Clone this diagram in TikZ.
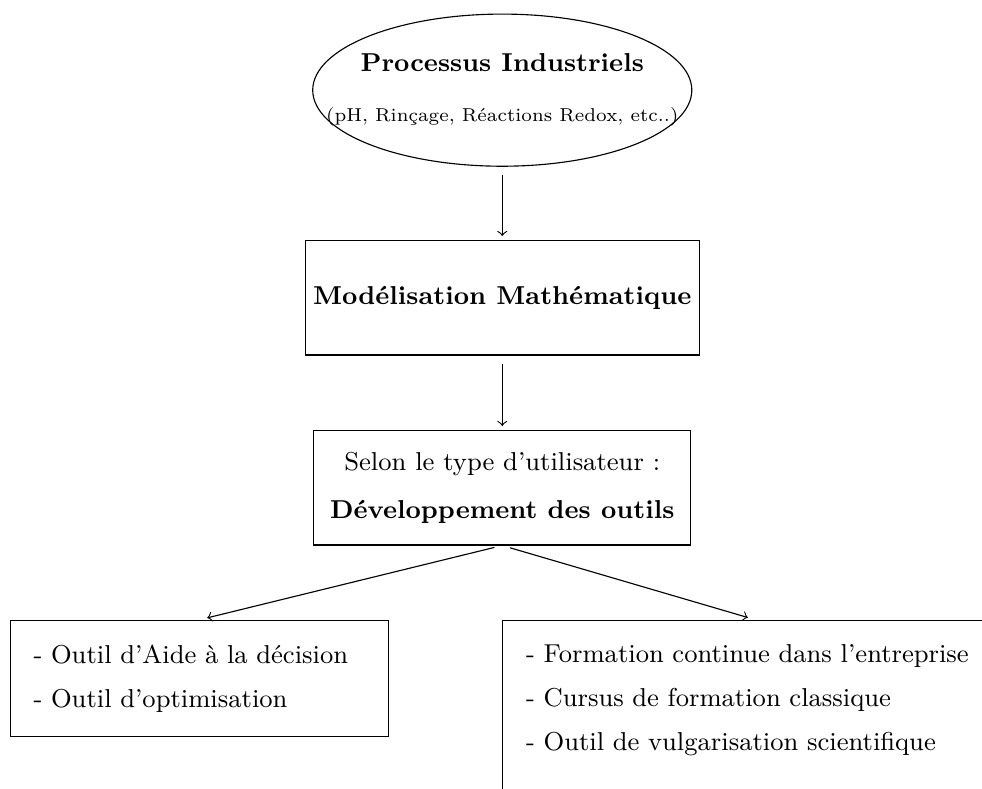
\documentclass[tikz,border=0pt]{standalone}
\usepackage{fontspec}
\usetikzlibrary{shapes.geometric, positioning}

\begin{document}
\begin{tikzpicture}[
  every node/.style={font=\fontsize{9.15pt}{11pt}\selectfont},
  ovale/.style={draw, ellipse, minimum width=47.1mm, minimum height=18.9mm,
    align=center, inner xsep=-20pt, inner ysep=0pt},
  cadre/.style={draw, minimum height=14.2mm, align=center, inner sep=2pt},
  liste/.style={draw, anchor=north west, align=left, inner xsep=2.9mm,
    inner ysep=8.6pt},
  arr/.style={->, shorten <=1mm, shorten >=0.5mm},
]

% Page frame
\useasboundingbox (0,0) rectangle (12.2,9.8);

% =============================================
% Chain: processus -> modelisation -> outils
% =============================================

% Processus industriels
\node[ovale] (proc) at (6.24,8.68)
  {\textbf{Processus Industriels}\\[6.7pt]
   {\fontsize{6.6pt}{8pt}\selectfont (pH, Rinçage, Réactions Redox, etc..)}};

% Modelisation
\node[cadre, minimum width=48.9mm] (model) at (6.24,6.10)
  {\textbf{Modélisation Mathématique}};

% Developpement des outils
\node[cadre, minimum width=46.8mm] (dev) at (6.24,3.74)
  {Selon le type d'utilisateur :\\[6pt]
   \textbf{Développement des outils}};

\draw[arr] (proc) -- (model);
\draw[arr] (model) -- (dev);

% =============================================
% Two kinds of users
% =============================================

% Aide a la decision
\node[liste, text width=41.2mm, minimum height=14mm] (aide) at (0.12,2.10)
  {- Outil d'Aide à la décision\\[4.5pt]
   - Outil d'optimisation};

% Formation
\node[liste, text width=57mm, text depth=2cm] (form) at (6.24,2.10)
  {- Formation continue dans l'entreprise\\[4.5pt]
   - Cursus de formation classique\\[4.5pt]
   - Outil de vulgarisation scientifique};

\draw[arr, shorten >=1mm] (dev.south) -- (aide.north);
\draw[arr, shorten >=1mm] (dev.south) -- (form.north);

\end{tikzpicture}
\end{document}
